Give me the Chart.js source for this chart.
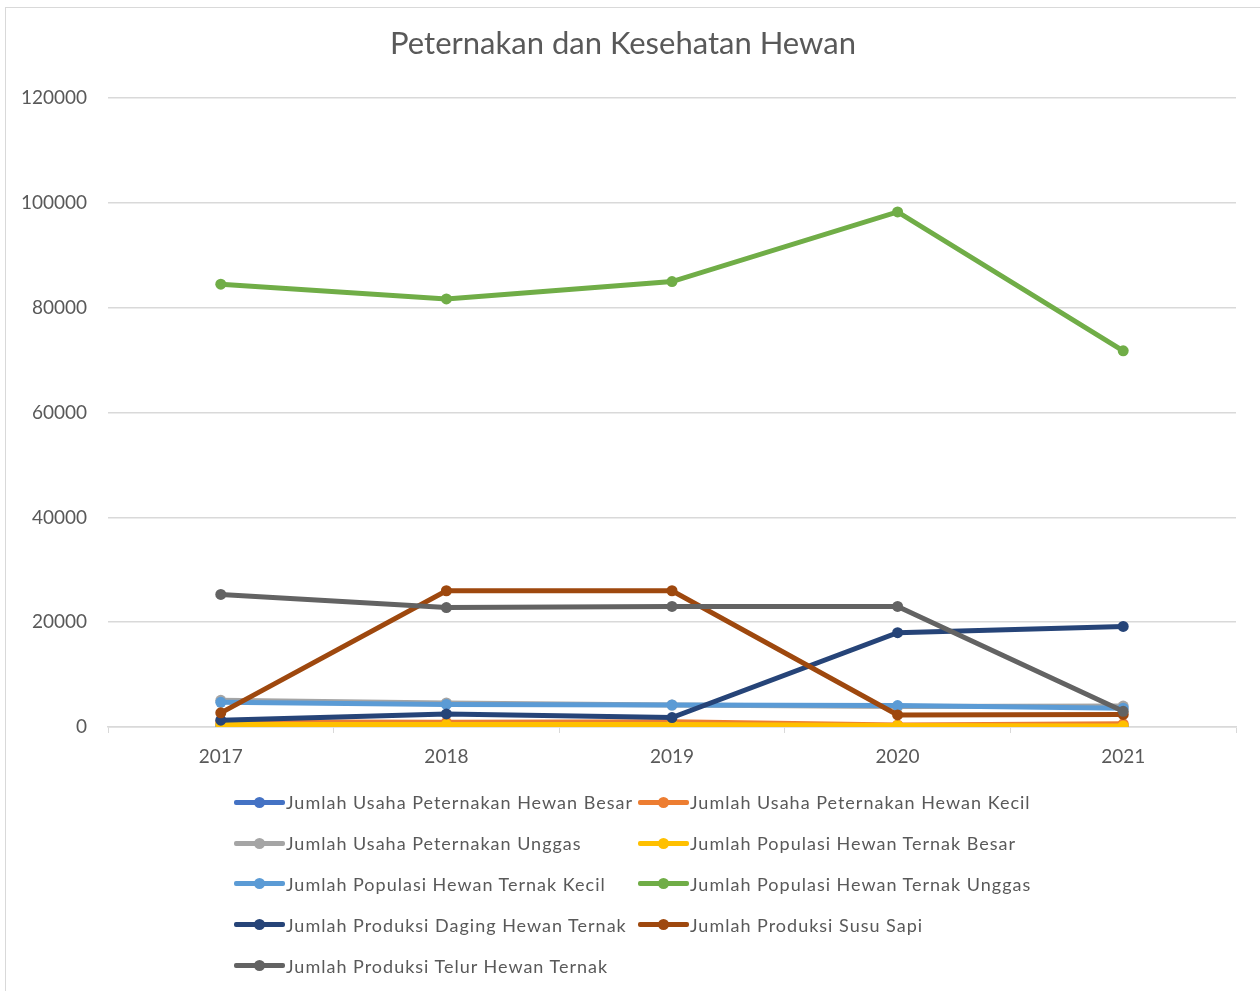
<!DOCTYPE html>
<html lang="id">
<head>
<meta charset="UTF-8">
<title>Peternakan dan Kesehatan Hewan</title>
<script src="https://cdn.jsdelivr.net/npm/chart.js"></script>
<style>
  html, body { margin: 0; padding: 0; background: #fff; }
  body { width: 1260px; height: 991px; position: relative; overflow: hidden; font-family: Lato, "Open Sans", sans-serif; }
  .frame { position: absolute; left: 5px; top: 7px; width: 1300px; height: 1100px; border: 1.5px solid #d9d9d9; box-sizing: border-box; }
  #wrap { position: absolute; left: 0; top: 0; width: 1260px; height: 991px; }
  #legend { position: absolute; left: 234px; top: 782px; width: 900px; display: grid; grid-template-columns: 404px 450px; grid-auto-rows: 40.8px; }
  .item { display: flex; align-items: center; font-size: 18px; color: #595959; white-space: nowrap; letter-spacing: 1px; }
  .sw { position: relative; width: 51px; height: 5px; margin-right: 1px; border-radius: 2px; }
  .sw span { position: absolute; left: 20px; top: -3px; width: 11px; height: 11px; border-radius: 50%; }
</style>
</head>
<body>
<div class="frame"></div>
<div id="wrap"><canvas id="chart" width="1260" height="991"></canvas></div>
<div id="legend"></div>
<script>
// data
const years = ['2017', '2018', '2019', '2020', '2021'];
const seriesNames = [
  'Jumlah Usaha Peternakan Hewan Besar',
  'Jumlah Usaha Peternakan Hewan Kecil',
  'Jumlah Usaha Peternakan Unggas',
  'Jumlah Populasi Hewan Ternak Besar',
  'Jumlah Populasi Hewan Ternak Kecil',
  'Jumlah Populasi Hewan Ternak Unggas',
  'Jumlah Produksi Daging Hewan Ternak',
  'Jumlah Produksi Susu Sapi',
  'Jumlah Produksi Telur Hewan Ternak'
];
const usahaBesar = [300, 300, 300, 200, 200];
const usahaKecil = [1000, 900, 1000, 400, 600];
const usahaUnggas = [5100, 4600, 4200, 3900, 4000];
const populasiBesar = [500, 500, 500, 300, 200];
const populasiKecil = [4700, 4300, 4200, 4100, 3600];
const populasiUnggas = [84500, 81700, 85000, 98300, 71800];
const produksiDaging = [1300, 2500, 1800, 18000, 19200];
const produksiSusu = [2700, 26000, 26000, 2300, 2400];
const produksiTelur = [25300, 22800, 23000, 23000, 3000];
const yTicks = [0, 20000, 40000, 60000, 80000, 100000, 120000];

const seriesValues = [usahaBesar, usahaKecil, usahaUnggas, populasiBesar, populasiKecil,
  populasiUnggas, produksiDaging, produksiSusu, produksiTelur];
const colors = ['#4472C4', '#ED7D31', '#A5A5A5', '#FFC000', '#5B9BD5',
  '#70AD47', '#264478', '#9E480E', '#636363'];

const textColor = '#595959';
const gridColor = '#d9d9d9';

const datasets = seriesNames.map((name, i) => ({
  label: name,
  data: seriesValues[i],
  borderColor: colors[i],
  backgroundColor: colors[i],
  borderWidth: 5,
  pointRadius: 5.5,
  pointBorderWidth: 0,
  pointHoverRadius: 5.5,
  tension: 0,
  order: seriesNames.length - i   // later series drawn on top, like the original
}));

const ctx = document.getElementById('chart').getContext('2d');
const chart = new Chart(ctx, {
  type: 'line',
  data: { labels: years, datasets: datasets },
  options: {
    responsive: false,
    animation: false,
    layout: { padding: { left: 10, right: 24, top: 0, bottom: 220 } },
    plugins: {
      legend: { display: false },
      tooltip: { enabled: false },
      title: {
        display: true,
        text: 'Peternakan dan Kesehatan Hewan',
        color: textColor,
        font: { family: 'Lato', size: 31, weight: 'normal' },
        padding: { top: 25, bottom: 36 }
      }
    },
    scales: {
      x: {
        offset: true,
        grid: { display: true, drawOnChartArea: false, drawTicks: true, tickLength: 6, offset: true, color: gridColor },
        border: { display: true, color: gridColor, width: 1.5 },
        ticks: { color: textColor, font: { family: 'Lato', size: 19 }, padding: 12 },
        afterFit: s => { s.height = 44; }
      },
      y: {
        min: 0,
        max: 120000,
        afterBuildTicks: s => { s.ticks = yTicks.map(v => ({ value: v })); },
        grid: { color: gridColor, lineWidth: 1.5, drawTicks: false },
        border: { display: false },
        ticks: { color: textColor, font: { family: 'Lato', size: 19 }, padding: 21, callback: v => String(v) },
        afterFit: s => { s.width = 98; }
      }
    }
  }
});

// legend in two columns, built from the chart's datasets
const legend = document.getElementById('legend');
chart.data.datasets.forEach(ds => {
  const item = document.createElement('div');
  item.className = 'item';
  item.innerHTML = `<div class="sw" style="background:${ds.borderColor}"><span style="background:${ds.borderColor}"></span></div>${ds.label}`;
  legend.appendChild(item);
});
</script>
</body>
</html>
